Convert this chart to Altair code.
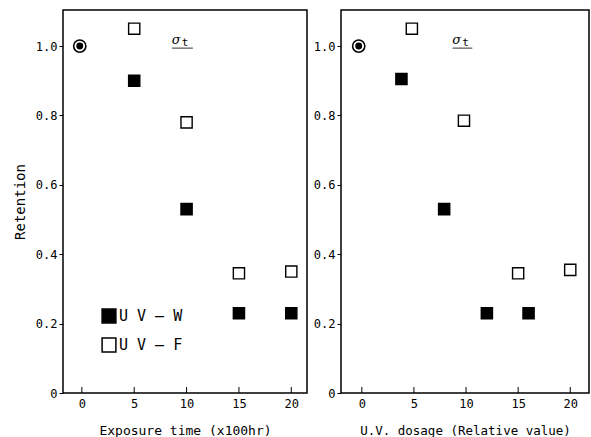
import altair as alt
import pandas as pd

MONO = "DejaVu Sans Mono"

# ---- data ----
series_names = ["U V \u2014 W", "U V \u2014 F"]

left_w_x = [5, 10, 15, 20]
left_w_y = [0.90, 0.53, 0.23, 0.23]
left_f_x = [5, 10, 15, 20]
left_f_y = [1.05, 0.78, 0.345, 0.35]
left_ctrl_x = [-0.2]
left_ctrl_y = [1.0]

right_w_x = [3.8, 7.9, 12.0, 16.0]
right_w_y = [0.905, 0.53, 0.23, 0.23]
right_f_x = [4.8, 9.8, 15.0, 20.0]
right_f_y = [1.05, 0.785, 0.345, 0.355]
right_ctrl_x = [-0.3]
right_ctrl_y = [1.0]

x_ticks = [0, 5, 10, 15, 20]
y_ticks = [0, 0.2, 0.4, 0.6, 0.8, 1.0]

sigma_label = ["\u03c3"]
sigma_sub = ["t"]
left_sigma_x = [9.0]
right_sigma_x = [9.1]
sigma_y = [1.006]
left_under_x = [8.6]
left_under_x2 = [10.6]
right_under_x = [8.7]
right_under_x2 = [10.6]
under_y = [0.994]

left_xdomain = [-1.8, 21.5]
right_xdomain = [-2.0, 21.8]
ydomain = [0, 1.104]

H = 383


def panel(wx, wy, fx, fy, cx, cy, sx, ux, ux2, xdomain, xtitle, xtitle_size,
          width, show_legend, ytitle):
    pts = pd.DataFrame({
        "x": wx + fx,
        "y": wy + fy,
        "series": [series_names[0]] * len(wx) + [series_names[1]] * len(fx),
    })
    xs = alt.Scale(domain=xdomain, nice=False, zero=False)
    ys = alt.Scale(domain=ydomain, nice=False)
    xaxis = alt.Axis(values=x_ticks, title=xtitle, titleFontSize=xtitle_size,
                     tickSize=0, labelPadding=5, titlePadding=15)
    yaxis = alt.Axis(values=y_ticks, title=ytitle, tickSize=4, labelPadding=2,
                     titlePadding=8,
                     labelExpr="datum.value == 0 ? '0' : format(datum.value, '.1f')")
    if show_legend:
        leg = alt.Legend(orient="none", legendX=38, legendY=298, title=None,
                         symbolType="square", symbolSize=190,
                         symbolStrokeColor="black", symbolStrokeWidth=1.5,
                         symbolOpacity=1, labelFont=MONO, labelFontSize=15,
                         labelColor="black", rowPadding=9, labelOffset=2,
                         padding=0)
    else:
        leg = None
    squares = alt.Chart(pts).mark_square(size=125, stroke="black",
                                         strokeWidth=1.4, opacity=1).encode(
        x=alt.X("x:Q", scale=xs, axis=xaxis),
        y=alt.Y("y:Q", scale=ys, axis=yaxis),
        fill=alt.Fill("series:N", scale=alt.Scale(domain=series_names,
                                                   range=["black", "white"]),
                      legend=leg),
    )
    ctrl = pd.DataFrame({"x": cx, "y": cy})
    ring = alt.Chart(ctrl).mark_point(shape="circle", size=150, filled=False,
                                      stroke="black", strokeWidth=1.6,
                                      opacity=1).encode(x="x:Q", y="y:Q")
    dot = alt.Chart(ctrl).mark_point(shape="circle", size=48, filled=True,
                                     color="black", opacity=1).encode(x="x:Q", y="y:Q")
    sig = pd.DataFrame({"x": sx, "y": sigma_y, "s": sigma_label, "t": sigma_sub})
    sig_text = alt.Chart(sig).mark_text(font="DejaVu Serif", fontStyle="italic",
                                        fontSize=13, baseline="alphabetic",
                                        align="center", color="black").encode(
        x="x:Q", y="y:Q", text="s:N")
    sub_text = alt.Chart(sig).mark_text(font=MONO, fontSize=11, dx=9, dy=2,
                                        baseline="alphabetic", align="center",
                                        color="black").encode(
        x="x:Q", y="y:Q", text="t:N")
    und = pd.DataFrame({"x": ux, "x2": ux2, "y": under_y})
    underline = alt.Chart(und).mark_rule(color="#777", strokeWidth=1.5).encode(
        x="x:Q", x2="x2:Q", y="y:Q")
    tk = pd.DataFrame({"v": x_ticks})
    ticks = alt.Chart(tk).mark_rule(color="black", strokeWidth=1).encode(
        x="v:Q", y=alt.value(H), y2=alt.value(H - 6))
    return alt.layer(ticks, underline, sig_text, sub_text, squares, ring, dot).properties(
        width=width, height=H)


left = panel(left_w_x, left_w_y, left_f_x, left_f_y, left_ctrl_x, left_ctrl_y,
             left_sigma_x, left_under_x, left_under_x2, left_xdomain,
             "Exposure time (x100hr)", 13, 244, True, "Retention")
right = panel(right_w_x, right_w_y, right_f_x, right_f_y, right_ctrl_x, right_ctrl_y,
              right_sigma_x, right_under_x, right_under_x2, right_xdomain,
              "U.V. dosage (Relative value)", 12.5, 248, False, None)

chart = alt.hconcat(left, right, spacing=4).resolve_scale(
    x="independent", fill="shared").resolve_legend(fill="independent").properties(
    padding={"left": 12, "top": 9, "right": 0, "bottom": 0},
    background="white",
).configure_view(stroke="black", strokeWidth=1.5).configure_axis(
    domain=False, grid=False, labelFont=MONO, labelFontSize=12, labelColor="black",
    titleFont=MONO, titleFontWeight="normal", titleColor="black", tickColor="black",
).configure_axisY(titleFontSize=14)

chart.save("out.html", embed_options={"renderer": "svg", "actions": False})
